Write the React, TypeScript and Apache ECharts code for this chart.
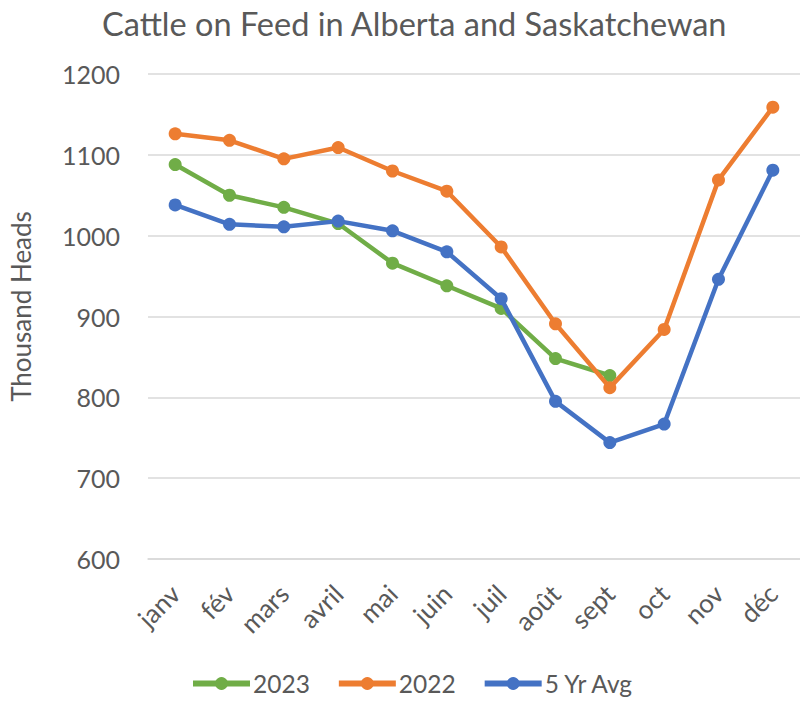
import React, { useEffect, useRef } from "react";
import * as echarts from "echarts";

const months = ["janv", "fév", "mars", "avril", "mai", "juin", "juil", "août", "sept", "oct", "nov", "déc"];
const s2023 = [1088, 1050, 1035, 1015, 966, 938, 910, 848, 827, null, null, null];
const s2022 = [1126, 1118, 1095, 1109, 1080, 1055, 986, 891, 812, 884, 1069, 1159];
const s5yr = [1038, 1014, 1011, 1018, 1006, 980, 922, 795, 744, 767, 946, 1081];
const seriesNames = ["2023", "2022", "5 Yr Avg"];
const colors = ["#70AD47", "#ED7D31", "#4472C4"];

const FONT = "Lato";
const TXT = "#595959";

export default function App() {
  const ref = useRef<HTMLDivElement>(null);
  useEffect(() => {
    document.body.style.margin = "0";
    const chart = echarts.init(ref.current!, null, { renderer: "svg" });
    const data = [s2023, s2022, s5yr];
    chart.setOption({
      animation: false,
      backgroundColor: "#ffffff",
      title: {
        text: "Cattle on Feed in Alberta and Saskatchewan",
        left: 97,
        top: 2,
        textStyle: { fontFamily: FONT, fontSize: 32.5, fontWeight: "normal", color: TXT },
      },
      legend: {
        bottom: 0,
        left: 185,
        itemWidth: 57,
        itemHeight: 16,
        itemGap: 26,
        lineStyle: { width: 6 },
        textStyle: { fontFamily: FONT, fontSize: 24.5, color: TXT, padding: [0, 0, 0, -2] },
        data: seriesNames,
      },
      grid: { left: 148, right: -4, top: 74, bottom: 142 },
      xAxis: {
        type: "category",
        data: months,
        boundaryGap: true,
        axisLine: { show: true, lineStyle: { color: "#d9d9d9", width: 1.5 } },
        axisTick: { show: false },
        axisLabel: { rotate: 45, margin: 30, fontFamily: FONT, fontSize: 26, color: TXT, interval: 0 },
      },
      yAxis: {
        type: "value",
        min: 600,
        max: 1200,
        interval: 100,
        name: "Thousand Heads",
        nameLocation: "middle",
        nameGap: 114,
        nameTextStyle: { fontFamily: FONT, fontSize: 26, color: TXT, padding: [0, 0, 0, 20] },
        axisLine: { show: false },
        axisTick: { show: false },
        axisLabel: { margin: 28, fontFamily: FONT, fontSize: 25, color: TXT, formatter: (v: number) => String(v) },
        splitLine: { lineStyle: { color: "#d9d9d9", width: 1.5 } },
      },
      series: data.map((d, i) => ({
        name: seriesNames[i],
        type: "line",
        data: d,
        symbol: "circle",
        symbolSize: 13,
        lineStyle: { width: 4.5, color: colors[i] },
        itemStyle: { color: colors[i] },
        z: 2 + i,
      })),
    });
    return () => chart.dispose();
  }, []);
  return <div ref={ref} style={{ width: 800, height: 701 }} />;
}
